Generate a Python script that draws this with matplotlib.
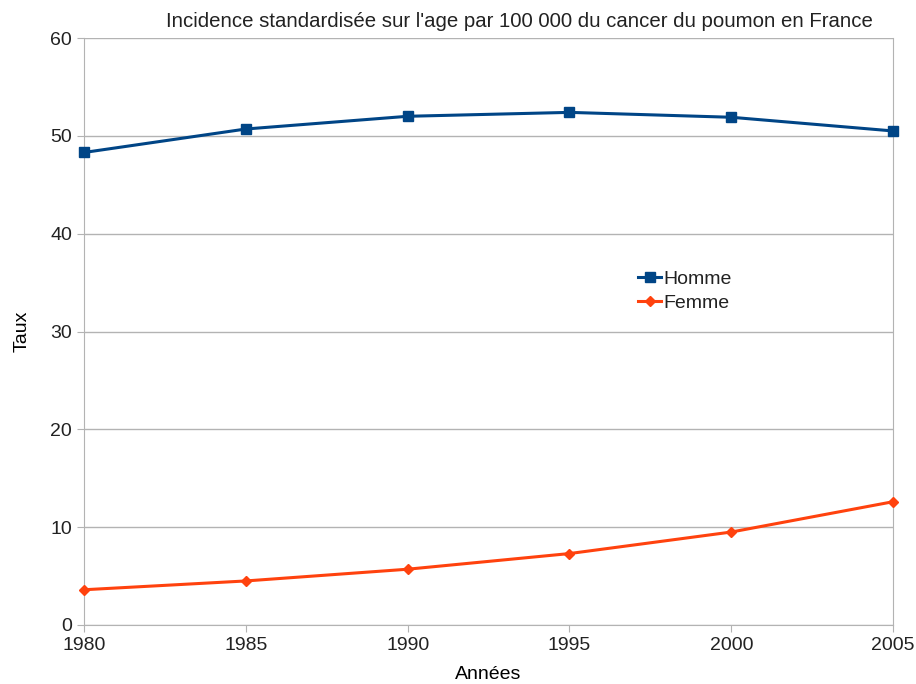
import matplotlib.pyplot as plt

plt.rcParams['font.family'] = ['Liberation Sans', 'DejaVu Sans']
plt.rcParams['text.color'] = '#222222'

years = [1980, 1985, 1990, 1995, 2000, 2005]
homme = [48.3, 50.7, 52.0, 52.4, 51.9, 50.5]
femme = [3.6, 4.5, 5.7, 7.3, 9.5, 12.6]

blue = '#004586'
orange = '#ff420e'

fig = plt.figure(figsize=(9.16, 6.84), dpi=100)
ax = fig.add_axes([0.0917, 0.0863, 0.8833, 0.8581])

ax.plot(years, homme, color=blue, lw=2.2, marker='s', ms=7, label='Homme', clip_on=False, zorder=3)
ax.plot(years, femme, color=orange, lw=2.2, marker='D', ms=5.5, label='Femme', clip_on=False, zorder=3)

ax.set_xlim(1980, 2005)
ax.set_ylim(0, 60)
ax.set_xticks(years)
ax.set_yticks(range(0, 61, 10))
ax.grid(axis='y', color='#b3b3b3', lw=1)
ax.set_axisbelow(True)
for s in ['left', 'right', 'bottom']:
    ax.spines[s].set_color('#b3b3b3')
ax.spines['top'].set_visible(False)
ax.tick_params(colors='#b3b3b3', labelcolor='#222222', labelsize=14, length=5)

ax.set_xlabel('Années', fontsize=14, labelpad=8.5)
ax.set_ylabel('Taux', fontsize=14, labelpad=14)
ax.set_title("Incidence standardisée sur l'age par 100 000 du cancer du poumon en France",
             fontsize=14.65, x=0.538, pad=8)

ax.legend(loc='upper left', bbox_to_anchor=(0.675, 0.617), frameon=False, fontsize=14,
          handlelength=1.2, handletextpad=0.1, labelspacing=0.3, borderaxespad=0)

fig.savefig('out.png', dpi=100)
